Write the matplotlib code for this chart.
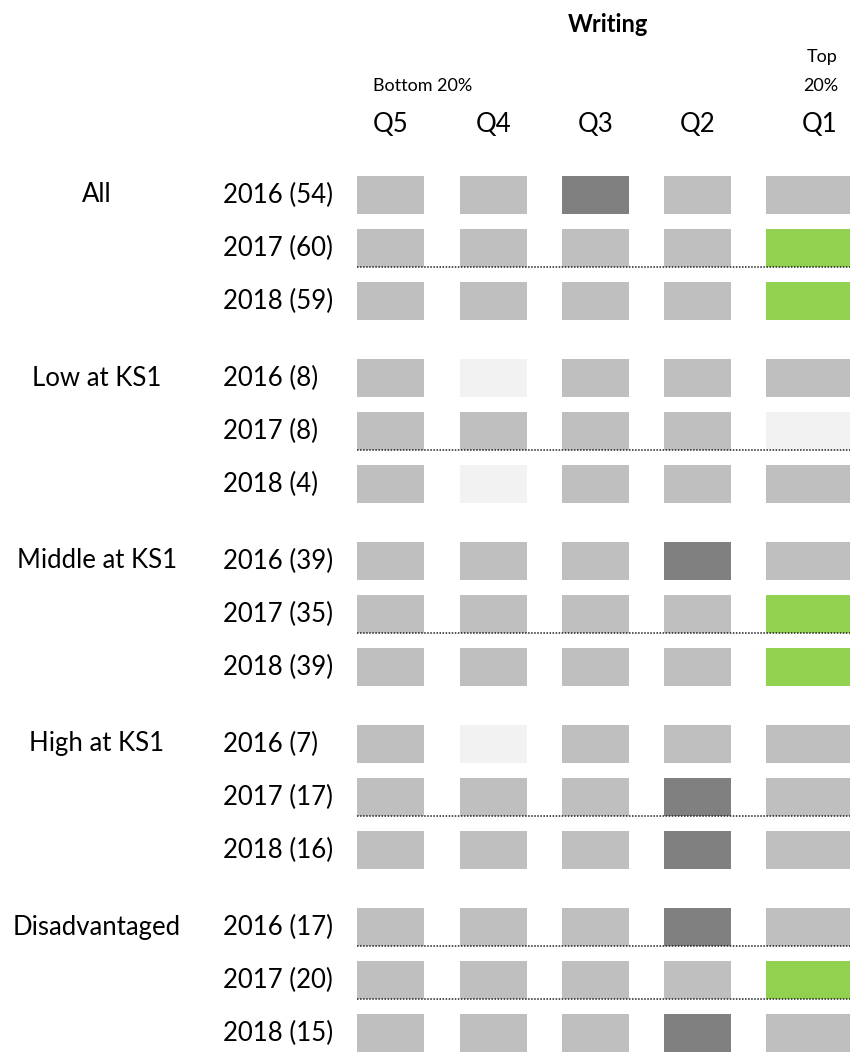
import matplotlib
matplotlib.use("Agg")
import matplotlib.pyplot as plt

plt.rcParams['font.family'] = ['Lato', 'DejaVu Sans']

# data
title = "Writing"
quintiles = ["Q5", "Q4", "Q3", "Q2", "Q1"]
groups = ["All", "Low at KS1", "Middle at KS1", "High at KS1", "Disadvantaged"]
years = ["2016", "2017", "2018"]
counts = [[54, 60, 59],
          [8, 8, 4],
          [39, 35, 39],
          [7, 17, 16],
          [17, 20, 15]]
# 0 = grey, 1 = dark grey, 2 = light grey, 3 = green
shades = [[[0, 0, 1, 0, 0], [0, 0, 0, 0, 3], [0, 0, 0, 0, 3]],
          [[0, 2, 0, 0, 0], [0, 0, 0, 0, 2], [0, 2, 0, 0, 0]],
          [[0, 0, 0, 1, 0], [0, 0, 0, 0, 3], [0, 0, 0, 0, 3]],
          [[0, 2, 0, 0, 0], [0, 0, 0, 1, 0], [0, 0, 0, 1, 0]],
          [[0, 0, 0, 1, 0], [0, 0, 0, 0, 3], [0, 0, 0, 1, 0]]]
# rows with a dotted rule underneath (group, year index)
dotted = [(0, 1), (1, 1), (2, 1), (3, 1), (4, 0), (4, 1)]

colours = {0: "#BFBFBF", 1: "#808080", 2: "#F2F2F2", 3: "#92D050"}

# layout (pixels)
col_left = [357, 460, 562, 664, 766]
col_w = [67, 67, 67, 67, 112]
row_h = 38
row_pitch = 53.2
group_pitch = 183
top0 = 176

fig = plt.figure(figsize=(8.5, 10.52), dpi=100)
ax = fig.add_axes([0, 0, 1, 1])
ax.set_xlim(0, 850)
ax.set_ylim(1052, 0)
ax.axis("off")

for g, grp in enumerate(groups):
    for r, yr in enumerate(years):
        top = top0 + g * group_pitch + r * row_pitch
        yc = top + row_h / 2
        if r == 0:
            ax.text(97, yc, grp, ha="center", va="center", fontsize=18.5)
        ax.text(223, yc, f"{yr} ({counts[g][r]})", ha="left", va="center",
                fontsize=18.5)
        for c in range(len(quintiles)):
            ax.barh(yc, col_w[c], height=row_h, left=col_left[c],
                    color=colours[shades[g][r][c]], linewidth=0)
        if (g, r) in dotted:
            ax.hlines(top + row_h, col_left[0], 850, colors="#202020",
                      linestyles=(0, (1, 1)), linewidth=1.1)

ax.text(608, 25, title, ha="center", va="center", fontsize=17,
        fontweight="bold")
for c, q in enumerate(quintiles):
    if c == len(quintiles) - 1:
        ax.text(838, 124, q, ha="right", va="center", fontsize=18.5)
    else:
        ax.text(col_left[c] + col_w[c] / 2, 124, q, ha="center",
                va="center", fontsize=18.5)
ax.text(373, 86, "Bottom 20%", ha="left", va="center", fontsize=13)
ax.text(838, 86, "20%", ha="right", va="center", fontsize=13)
ax.text(838, 57, "Top", ha="right", va="center", fontsize=13)

fig.savefig("out.png", dpi=100)
